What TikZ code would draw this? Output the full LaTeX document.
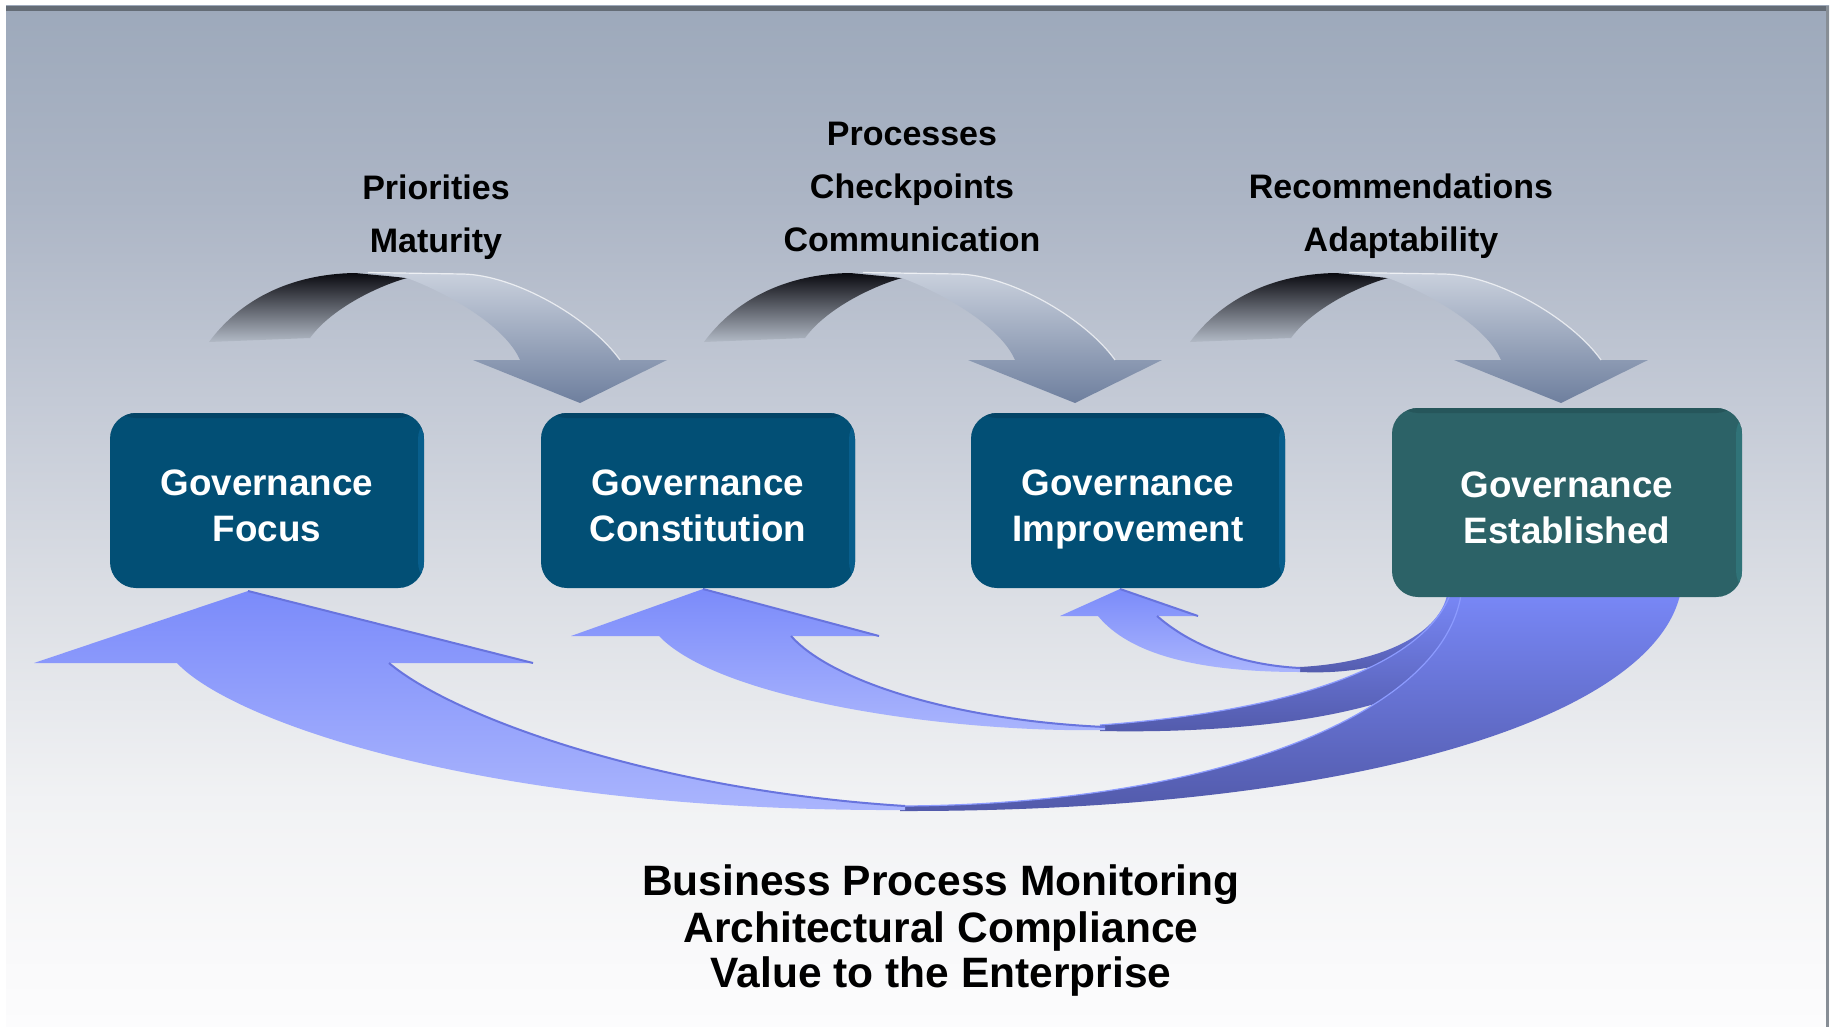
\documentclass[tikz,border=0pt]{standalone}
\usepackage{fontspec}
\setmainfont{Liberation Sans}
\definecolor{bg0}{RGB}{252,252,253}
\definecolor{bg1}{RGB}{249,249,250}
\definecolor{bg2}{RGB}{241,242,244}
\definecolor{bg3}{RGB}{220,223,229}
\definecolor{bg4}{RGB}{196,202,214}
\definecolor{bg5}{RGB}{172,181,197}
\definecolor{bg6}{RGB}{157,169,187}
\definecolor{frametop}{RGB}{100,108,118}
\definecolor{frameside}{RGB}{135,142,150}
\definecolor{boxAfill}{RGB}{2,79,117}
\definecolor{boxAtop}{RGB}{3,68,102}
\definecolor{boxAside}{RGB}{8,94,140}
\definecolor{boxBfill}{RGB}{44,98,103}
\definecolor{boxBtop}{RGB}{38,86,91}
\definecolor{boxBside}{RGB}{48,115,120}
\definecolor{topdk1}{RGB}{10,10,16}
\definecolor{topdk2}{RGB}{178,186,198}
\definecolor{toplt1}{RGB}{202,209,221}
\definecolor{toplt2}{RGB}{110,127,158}
\definecolor{front1}{RGB}{123,139,250}
\definecolor{front2}{RGB}{170,181,253}
\definecolor{back1}{RGB}{120,135,246}
\definecolor{back2}{RGB}{82,90,170}
\definecolor{edgeblue}{RGB}{104,116,222}
\definecolor{hlblue}{RGB}{140,155,255}
\pgfdeclareverticalshading{panelshade}{100bp}{color(0bp)=(bg0); color(25bp)=(bg0); color(28.75bp)=(bg1); color(36.1bp)=(bg2); color(45.9bp)=(bg3); color(55.65bp)=(bg4); color(65.5bp)=(bg5); color(75bp)=(bg6); color(100bp)=(bg6)}
\newcommand\govline[1]{\raisebox{-4.5pt}[27pt][0pt]{#1}}
\begin{document}
\begin{tikzpicture}[x=1pt,y=-1pt,
  govbox/.style={rounded corners=26pt, inner sep=0pt, align=center, text=white,
    font=\bfseries\fontsize{36.8}{46}\selectfont},
  boxa/.style={govbox, fill=boxAfill, minimum width=314pt, minimum height=175pt,
    path picture={
      \fill[boxAside] ([xshift=-6pt]path picture bounding box.north east) rectangle (path picture bounding box.south east);
      \fill[boxAtop] (path picture bounding box.north west) rectangle ([yshift=-5pt]path picture bounding box.north east);}},
  boxb/.style={govbox, fill=boxBfill, minimum width=350pt, minimum height=189pt,
    path picture={
      \fill[boxBside] ([xshift=-6pt]path picture bounding box.north east) rectangle (path picture bounding box.south east);
      \fill[boxBtop] (path picture bounding box.north west) rectangle ([yshift=-5pt]path picture bounding box.north east);}},
  lbl/.style={anchor=base, inner sep=0pt, font=\bfseries\fontsize{34}{40}\selectfont},
  bigl/.style={anchor=base, inner sep=0pt, font=\bfseries\fontsize{42.5}{48}\selectfont},
  frontface/.style={top color=front1, bottom color=front2},
  backface/.style={top color=back1, bottom color=back2},
  edgeline/.style={draw=edgeblue, line width=2pt},
  hlline/.style={draw=hlblue, line width=1.2pt},
  headedge/.style={draw=edgeblue, line width=2pt}
]
\useasboundingbox (0,0) rectangle (1835,1027);
\fill[white] (0,0) rectangle (1835,1027);
\shade[shading=panelshade] (6,6) rectangle (1829,1027);
\fill[frametop] (6,6) rectangle (1829,11);
\fill[frameside] (1826,6) rectangle (1829,1027);

% top curved arrows
\foreach \dx in {0,495,981}{
  \begin{scope}[shift={(\dx,0)}]
    \shade[top color=topdk1, bottom color=topdk2]
      (209,342) .. controls (240,300) and (290,274) .. (355,273)
      -- (407,278) .. controls (375,287) and (330,310) .. (310,338) -- cycle;
    \shade[top color=toplt1, bottom color=toplt2]
      (365,272) -- (463,274) .. controls (515,275) and (590,318) .. (620,360)
      -- (667,360) -- (580,403) -- (473,360) -- (520,360)
      .. controls (505,325) and (445,292) .. (407,278) -- cycle;
    \draw[white, line width=1.2pt, opacity=0.7]
      (368,272.5) -- (463,274) .. controls (515,275) and (590,318) .. (620,360);
  \end{scope}
}

% bottom arrows: small (to f3)
\shade[backface] (1300,667) .. controls (1390,662) and (1440,630) .. (1447,595)
  -- (1458,595) .. controls (1452,645) and (1390,676) .. (1300,672) -- cycle;
\shade[frontface] (1120,589) -- (1198,616) -- (1157,616)
  .. controls (1190,645) and (1240,665) .. (1300,668) -- (1300,672)
  .. controls (1200,672) and (1130,655) .. (1098,616) -- (1060,616) -- cycle;
\draw[edgeline] (1157,616) .. controls (1190,645) and (1240,665) .. (1300,668);
\draw[headedge] (1120,589) -- (1198,616);

% medium (to f2)
\shade[backface] (1100,725) .. controls (1280,712) and (1420,670) .. (1450,595)
  -- (1500,595) .. controls (1500,700) and (1300,735) .. (1100,731) -- cycle;
\draw[hlline] (1100,725) .. controls (1280,712) and (1420,670) .. (1450,595);
\shade[frontface] (703,589) -- (879,636) -- (791,636)
  .. controls (830,680) and (950,720) .. (1105,727) -- (1105,730)
  .. controls (950,733) and (720,700) .. (659,636) -- (571,636) -- cycle;
\draw[edgeline] (791,636) .. controls (830,680) and (950,720) .. (1105,727);
\draw[headedge] (703,589) -- (879,636);

% big (to f1)
\shade[backface] (900,806) .. controls (1200,805) and (1440,720) .. (1461,595)
  -- (1680,595) .. controls (1650,720) and (1350,812) .. (900,811) -- cycle;
\draw[hlline] (900,806) .. controls (1200,805) and (1440,720) .. (1461,595);
\shade[frontface] (248,591) -- (533,663) -- (389,663)
  .. controls (450,715) and (650,790) .. (905,806) -- (905,810)
  .. controls (480,812) and (230,720) .. (177,663) -- (34,663) -- cycle;
\draw[edgeline] (389,663) .. controls (450,715) and (650,790) .. (905,806);
\draw[headedge] (248,591) -- (533,663);

% boxes
\node[boxa] (f1) at (267,500.5) {\govline{Governance}\\\govline{Focus}};
\node[boxa] (f2) at (698,500.5) {\govline{Governance}\\\govline{Constitution}};
\node[boxa] (f3) at (1128,500.5) {\govline{Governance}\\\govline{Improvement}};
\node[boxb] (f4) at (1567,502.5) {\govline{Governance}\\\govline{Established}};

% top labels
\node[lbl] (p1) at (436,200) {Priorities};
\node[lbl] (p2) at (436,252) {Maturity};
\node[lbl] (c1) at (912,146) {Processes};
\node[lbl] (c2) at (912,198) {Checkpoints};
\node[lbl] (c3) at (912,251) {Communication};
\node[lbl] (r1) at (1401,199) {Recommendations};
\node[lbl] (r2) at (1401,251) {Adaptability};

% bottom text
\node[bigl] (b1) at (941,895) {Business Process Monitoring};
\node[bigl] (b2) at (941,942) {Architectural Compliance};
\node[bigl] (b3) at (941,987.5) {Value to the Enterprise};
\end{tikzpicture}
\end{document}
